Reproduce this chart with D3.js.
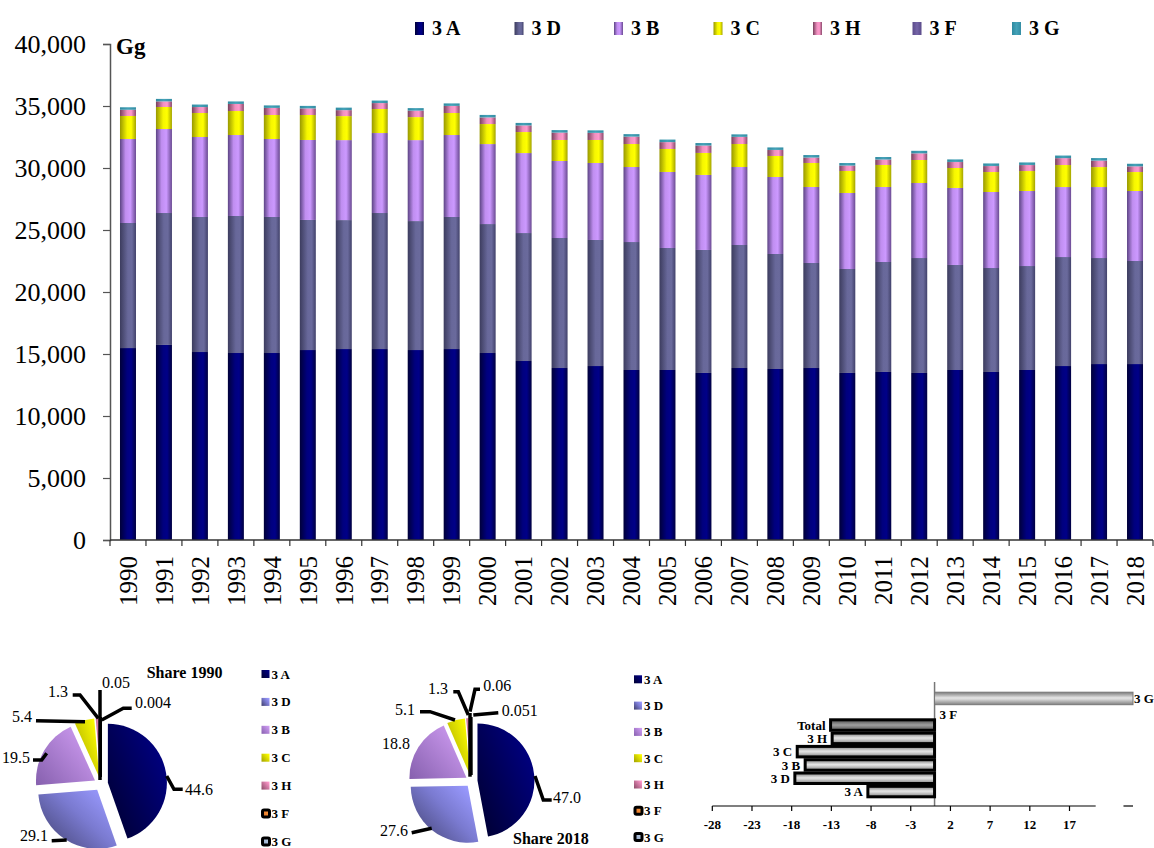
<!DOCTYPE html>
<html>
<head>
<meta charset="utf-8">
<script src="https://cdn.jsdelivr.net/npm/d3@7/dist/d3.min.js"></script>
<style>
body { margin: 0; background: #fff; }
text { font-family: "Times New Roman", "Liberation Serif", serif; }
</style>
</head>
<body>
<script>
// Data (Gg)
const years = [1990,1991,1992,1993,1994,1995,1996,1997,1998,1999,2000,2001,2002,2003,2004,
               2005,2006,2007,2008,2009,2010,2011,2012,2013,2014,2015,2016,2017,2018];
const s3A = [15480,15730,15160,15080,15080,15320,15400,15400,15320,15400,15080,14435,13870,14030,13710,
             13710,13470,13870,13790,13870,13470,13550,13470,13710,13550,13710,14030,14190,14190];
const s3D = [10085,10640,10890,11050,10970,10490,10400,10970,10400,10650,10400,10320,10485,10165,10320,
             9840,9920,9920,9275,8470,8385,8870,9270,8470,8385,8385,8790,8550,8310];
const s3B = [6775,6775,6450,6530,6290,6450,6450,6450,6530,6610,6450,6450,6210,6210,6050,
             6130,6050,6290,6210,6130,6130,6050,6050,6210,6130,6050,5645,5725,5645];
const s3C = [1855,1775,1935,1935,1935,2015,1935,1935,1855,1775,1615,1695,1695,1855,1855,
             1855,1775,1855,1695,1935,1775,1775,1855,1610,1610,1610,1775,1610,1530];
const s3H = [500,450,480,570,570,530,480,480,520,570,530,530,590,570,590,
             550,590,570,480,430,430,430,530,480,480,480,550,510,450];
const s3F = [1.4,1.5,1.5,1.7,1.9,2.1,2.2,2.6,2.9,3.1,3.7,4.2,4.4,5.1,5.6,
             6.2,6.4,7.1,7.8,8.1,8.9,9.3,9.8,10.4,11.2,12.1,13.0,14.2,15.4];
const s3G = [17,17,17,16,16,17,17,17,18,18,18,19,19,19,19,20,20,20,21,21,21,21,22,21,21,21,21,21,21];

const seriesKeys = ["3 A","3 D","3 B","3 C","3 H","3 F","3 G"];
const yTicks = [0,5000,10000,15000,20000,25000,30000,35000,40000];

// Shares (%)
const share1990 = [44.6,29.1,19.5,5.4,1.3,0.004,0.05];
const share2018 = [47.0,27.6,18.8,5.1,1.3,0.051,0.06];
const shareLabels1990 = ["44.6","29.1","19.5","5.4","1.3","0.004","0.05"];
const shareLabels2018 = ["47.0","27.6","18.8","5.1","1.3","0.051","0.06"];

// Change 1990-2018 (%)
const changeCats = ["3 G","3 F","Total","3 H","3 C","3 B","3 D","3 A"];
const changeVals = [25.0,0,-13.1,-12.9,-17.3,-16.3,-17.6,-8.4];
const changeTicks = [-28,-23,-18,-13,-8,-3,2,7,12,17];

const table = years.map((yr, i) => ({
  year: yr, "3 A": s3A[i], "3 D": s3D[i], "3 B": s3B[i], "3 C": s3C[i],
  "3 H": s3H[i], "3 F": s3F[i], "3 G": s3G[i]
}));

const svg = d3.select("body").append("svg").attr("width", 1154).attr("height", 848);
const defs = svg.append("defs");

// Gradients
function hGrad(id, stops, vertical) {
  const g = defs.append("linearGradient").attr("id", id)
    .attr("x1", 0).attr("y1", 0).attr("x2", vertical ? 0 : 1).attr("y2", vertical ? 1 : 0);
  stops.forEach(s => g.append("stop").attr("offset", s[0]).attr("stop-color", s[1]));
}
const barGrad = {
  "3 A": [[0,"#000038"],[0.45,"#00007e"],[0.7,"#000088"],[1,"#000040"]],
  "3 D": [[0,"#3c3c5e"],[0.5,"#68689a"],[0.75,"#6a6a9c"],[1,"#41416a"]],
  "3 B": [[0,"#5c4484"],[0.35,"#c08ef0"],[0.65,"#cc99ff"],[1,"#6a4a92"]],
  "3 C": [[0,"#989800"],[0.45,"#f6f600"],[0.7,"#ffff00"],[1,"#a4a400"]],
  "3 H": [[0,"#78405c"],[0.45,"#f090c0"],[0.7,"#ff99cc"],[1,"#8a4a6c"]],
  "3 F": [[0,"#5b4b8a"],[0.5,"#7565a8"],[1,"#5b4b8a"]],
  "3 G": [[0,"#2f8aa0"],[0.5,"#44a2b8"],[1,"#358ea4"]]
};
seriesKeys.forEach((k, i) => hGrad("bar" + i, barGrad[k], false));

const pieGrad = [
  [[0,"#00002e"],[1,"#000085"]],
  [[0,"#3e3e6a"],[0.6,"#7a7ad0"],[1,"#9a9aff"]],
  [[0,"#8660ae"],[1,"#cf9cf2"]],
  [[0,"#a0a000"],[1,"#ffff00"]],
  [[0,"#8a4a66"],[1,"#ff99cc"]],
  [[0,"#e07020"],[1,"#ff9a40"]],
  [[0,"#8aa0c0"],[1,"#c0d0e8"]]
];
pieGrad.forEach((st, i) => {
  const g = defs.append("linearGradient").attr("id", "pie" + i)
    .attr("x1", 0).attr("y1", 1).attr("x2", 1).attr("y2", 0.2);
  st.forEach(s => g.append("stop").attr("offset", s[0]).attr("stop-color", s[1]));
});
hGrad("grayBar", [[0,"#7a7a7a"],[0.45,"#e4e4e4"],[0.55,"#dadada"],[1,"#808080"]], true);
hGrad("darkBar", [[0,"#4c4c4c"],[0.5,"#a0a0a0"],[1,"#505050"]], true);

// ---------- Main stacked bar chart ----------
const x = d3.scaleBand().domain(years).range([110, 1153]).paddingInner(0.555).paddingOuter(0.2775);
const y = d3.scaleLinear().domain([0, 40000]).range([540, 44]);
const step = x.step();

const stacked = d3.stack().keys(seriesKeys)(table);

const barsG = svg.append("g");
stacked.forEach((layer, li) => {
  barsG.selectAll(null).data(layer).enter().append("rect")
    .attr("x", d => x(d.data.year))
    .attr("width", x.bandwidth())
    .attr("y", d => {
      const h = y(d[0]) - y(d[1]);
      return li === 6 ? y(d[0]) - Math.max(h, 2.5) : y(d[1]);
    })
    .attr("height", d => {
      const h = y(d[0]) - y(d[1]);
      return li === 6 ? Math.max(h, 2.5) : h;
    })
    .attr("fill", "url(#bar" + li + ")");
});

// Y axis
const yAxis = svg.append("g").attr("transform", "translate(110,0)")
  .call(d3.axisLeft(y).tickValues(yTicks).tickSize(7).tickPadding(17).tickFormat(d3.format(",")));
yAxis.select(".domain").attr("stroke", "#555").attr("stroke-width", 1.5);
yAxis.selectAll(".tick line").attr("stroke", "#555").attr("stroke-width", 1.2);
yAxis.selectAll(".tick text").attr("font-size", 26).attr("fill", "#000")
  .attr("font-family", "'Times New Roman','Liberation Serif',serif");

svg.append("text").attr("x", 116).attr("y", 54).attr("font-size", 23).attr("font-weight", "bold").text("Gg");

// X axis
svg.append("line").attr("x1", 110).attr("x2", x.range()[1]).attr("y1", y(0)).attr("y2", y(0))
  .attr("stroke", "#333").attr("stroke-width", 1.5);
const boundaries = [years[0]].concat(years);
svg.append("g").selectAll("line").data(boundaries).enter().append("line")
  .attr("x1", (d, i) => i === 0 ? x.range()[0] : x(d) + x.bandwidth() + step * x.paddingInner() / 2)
  .attr("x2", (d, i) => i === 0 ? x.range()[0] : x(d) + x.bandwidth() + step * x.paddingInner() / 2)
  .attr("y1", y(0)).attr("y2", y(0) + 6).attr("stroke", "#333").attr("stroke-width", 1.2);
svg.append("g").selectAll("text").data(years).enter().append("text")
  .attr("transform", d => `translate(${x(d) + x.bandwidth() / 2},556) rotate(-90)`)
  .attr("text-anchor", "end").attr("dy", "0.35em").attr("font-size", 25).text(d => d);

// Top legend
const legG = svg.append("g");
seriesKeys.forEach((k, i) => {
  const lx = 415 + i * 99.5;
  legG.append("rect").attr("x", lx).attr("y", 22).attr("width", 9).attr("height", 13)
    .attr("fill", "url(#bar" + i + ")");
  legG.append("text").attr("x", lx + 17).attr("y", 35).attr("font-size", 20)
    .attr("font-weight", "bold").text(k);
});

// ---------- Pies ----------
function drawPie(cfg) {
  const pie = d3.pie().sort(null).value(d => d)(cfg.shares);
  const arc = d3.arc().innerRadius(0).outerRadius(cfg.r);
  const g = svg.append("g").attr("transform", `translate(${cfg.cx},${cfg.cy})`);
  pie.forEach((p, i) => {
    const mid = (p.startAngle + p.endAngle) / 2;
    const ox = cfg.explode * Math.sin(mid), oy = -cfg.explode * Math.cos(mid);
    g.append("path").attr("d", arc(p)).attr("transform", `translate(${ox},${oy})`)
      .attr("fill", "url(#pie" + i + ")")
      .attr("stroke", i >= 5 ? "#000" : "none").attr("stroke-width", i >= 5 ? 2 : 0);
  });
  cfg.lines.forEach(pts => {
    g.append("path").attr("d", d3.line()(pts)).attr("fill", "none")
      .attr("stroke", "#000").attr("stroke-width", 3.5).attr("stroke-linejoin", "miter");
  });
  cfg.labels.forEach((lb, i) => {
    g.append("text").attr("x", lb[0]).attr("y", lb[1]).attr("text-anchor", lb[2])
      .attr("font-size", 16).text(cfg.texts[i]);
  });
  svg.append("text").attr("x", cfg.title[0]).attr("y", cfg.title[1]).attr("font-size", 16)
    .attr("font-weight", "bold").text(cfg.title[2]);
  // legend
  seriesKeys.forEach((k, i) => {
    const ly = cfg.legY + i * cfg.legStep;
    if (i < 5) {
      svg.append("rect").attr("x", cfg.legX).attr("y", ly - 4).attr("width", 8).attr("height", 8)
        .attr("fill", "url(#pie" + i + ")");
    } else {
      svg.append("rect").attr("x", cfg.legX + 1).attr("y", ly - 3.5).attr("width", 7).attr("height", 7)
        .attr("rx", 1.5).attr("fill", "url(#pie" + i + ")").attr("stroke", "#000").attr("stroke-width", 3);
    }
    svg.append("text").attr("x", cfg.legX + 10).attr("y", ly + 4.5).attr("font-size", 13)
      .attr("font-weight", "bold").text(k);
  });
}

drawPie({
  cx: 101, cy: 784, r: 59, explode: 7, shares: share1990, texts: shareLabels1990,
  labels: [[84, 11, "start"], [-53, 57, "end"], [-71, -21, "end"], [-69, -62, "end"],
           [-33, -87, "end"], [34, -76, "start"], [1, -96, "start"]],
  lines: [[[65.7,-8],[73,5.3],[81.7,5.3]],
          [[-49.3,56.7],[-34.3,56]],
          [[-68,-24],[-59.3,-24],[-54.3,-30.7]],
          [[-65,-63.3],[-16,-62.3]],
          [[-28.3,-89],[-21,-89],[-2.7,-65.7]],
          [[30.7,-75.7],[22.3,-75.7],[0.7,-64]],
          [[-1,-94],[-1,-4]]],
  title: [146.7, 678, "Share 1990"], legX: 261.5, legY: 674, legStep: 27.9
});

drawPie({
  cx: 471.5, cy: 781, r: 57, explode: 6, shares: share2018, texts: shareLabels2018,
  labels: [[81.5, 22, "start"], [-63.5, 54.5, "end"], [-61.5, -32, "end"], [-56.5, -66, "end"],
           [-23.5, -87, "end"], [30.2, -65.5, "start"], [11.8, -90.5, "start"]],
  lines: [[[63.5,-5],[71.8,19],[80.2,19]],
          [[-59.8,51.7],[-39.8,47.3]],
          [[-51.5,-69.3],[-41.5,-69.3],[-16.5,-61]],
          [[-18.2,-89.3],[-13.2,-89.3],[-3.2,-66]],
          [[8.5,-91.7],[3.5,-91.7],[-1.5,-69.3]],
          [[26.8,-68.3],[1.8,-66]],
          [[-1.5,-68],[-1.5,-4.3]]],
  title: [513, 844, "Share 2018"], legX: 634, legY: 679.3, legStep: 26.3
});

// ---------- Change chart ----------
const xc = d3.scaleLinear().domain([-28, 17]).range([712.3, 1069.5]);
const yc = d3.scaleBand().domain(changeCats).range([691.8, 798.2]).paddingInner(0.06).paddingOuter(0.03);
const cg = svg.append("g");

cg.append("line").attr("x1", xc(0)).attr("x2", xc(0)).attr("y1", 682).attr("y2", 806)
  .attr("stroke", "#777").attr("stroke-width", 1.5);

changeCats.forEach((c, i) => {
  const v = changeVals[i];
  if (v === 0) return;
  const isG = c === "3 G";
  cg.append("rect")
    .attr("x", Math.min(xc(0), xc(v))).attr("width", Math.abs(xc(v) - xc(0)))
    .attr("y", yc(c) + (isG ? 0 : 1)).attr("height", yc.bandwidth() - (isG ? 0 : 2))
    .attr("fill", c === "Total" ? "url(#darkBar)" : "url(#grayBar)")
    .attr("stroke", isG ? "#777" : "#000").attr("stroke-width", isG ? 1 : 3);
});
changeCats.forEach((c, i) => {
  const v = changeVals[i];
  const t = cg.append("text").attr("font-size", 13).attr("font-weight", "bold")
    .attr("y", yc(c) + yc.bandwidth() / 2 + (c === "3 F" ? 3 : 0)).attr("dy", "0.35em").text(c);
  if (v > 0) t.attr("x", xc(v) + 1).attr("text-anchor", "start");
  else if (v === 0) t.attr("x", xc(0) + 5).attr("text-anchor", "start");
  else t.attr("x", xc(v) - 5).attr("text-anchor", "end");
});

// axis
cg.append("line").attr("x1", xc(-28)).attr("x2", xc(20.3)).attr("y1", 806).attr("y2", 806)
  .attr("stroke", "#000").attr("stroke-width", 1.2);
cg.append("line").attr("x1", xc(23.8)).attr("x2", xc(25)).attr("y1", 806).attr("y2", 806)
  .attr("stroke", "#000").attr("stroke-width", 1.2);
cg.selectAll(".ct").data(changeTicks).enter().append("line")
  .attr("x1", d => xc(d)).attr("x2", d => xc(d)).attr("y1", 806).attr("y2", 811)
  .attr("stroke", "#000").attr("stroke-width", 1.2);
cg.selectAll(".cl").data(changeTicks).enter().append("text")
  .attr("x", d => xc(d)).attr("y", 829).attr("text-anchor", "middle")
  .attr("font-size", 13).attr("font-weight", "bold").text(d => d);
</script>
</body>
</html>
